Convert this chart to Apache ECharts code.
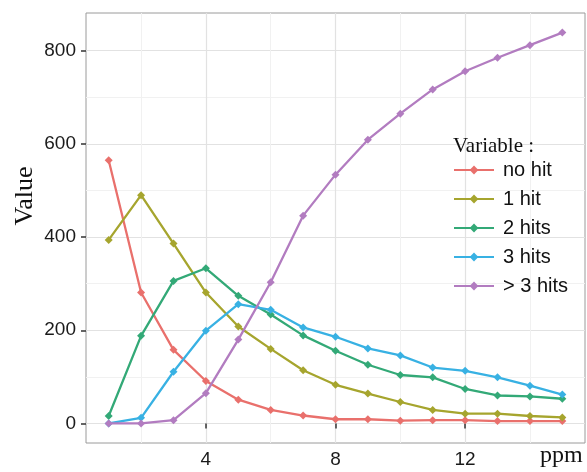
<!DOCTYPE html>
<html>
<head>
<meta charset="utf-8">
<script src="https://cdn.jsdelivr.net/npm/echarts@6/dist/echarts.min.js"></script>
<style>html,body{margin:0;padding:0;background:#fff}#c{width:587px;height:472px}</style>
</head>
<body>
<div id="c"></div>
<script>
const ppm = [1,2,3,4,5,6,7,8,9,10,11,12,13,14,15];
const seriesNames = ['no hit','1 hit','2 hits','3 hits','> 3 hits'];
const noHit   = [565,281,158,91,51,29,17,9,9,6,7,7,5,5,5];
const oneHit  = [394,490,386,281,208,160,114,83,64,46,29,21,21,16,13];
const twoHits = [16,188,306,333,274,234,189,156,126,104,99,74,60,58,53];
const threeHits = [0,12,111,199,256,244,206,186,161,146,120,113,99,81,62];
const moreHits  = [0,0,7,65,180,303,446,534,609,665,717,756,785,812,839];
const xMajorTicks = [4,8,12];
const xMinorTicks = [2,6,10,14];
const yMajorTicks = [0,200,400,600,800];
const yMinorTicks = [100,300,500,700];
const colors = ['#e9706c','#a6a52e','#33a977','#38b1e3','#b27cc0'];

const values = [noHit, oneHit, twoHits, threeHits, moreHits];
const chart = echarts.init(document.getElementById('c'), null, {renderer:'canvas'});
const X_MIN = 0.3, X_MAX = 15.7, Y_MIN = -42, Y_MAX = 881;
const sans = 'Liberation Sans, Arial, sans-serif';
const serif = 'Liberation Serif, Times New Roman, serif';

chart.setOption({
  animation: false,
  backgroundColor: '#fff',
  color: colors,
  title: {
    text: 'Variable :', left: 448, top: 131,
    textStyle: {fontFamily: serif, fontSize: 21, fontWeight: 'normal', color: '#111'}
  },
  grid: {left: 86, right: 2, top: 13, bottom: 29, show: true, borderColor: '#9a9a9a', borderWidth: 1, backgroundColor: 'transparent'},
  legend: {
    left: 453, top: 160, orient: 'vertical', padding: 0,
    itemWidth: 40, itemHeight: 11, itemGap: 9,
    data: seriesNames,
    textStyle: {fontFamily: sans, fontSize: 20, color: '#111', padding: [0,0,0,4]}
  },
  xAxis: [
    {type:'value', min: X_MIN, max: X_MAX,
     name: 'ppm', nameLocation: 'end', nameGap: -45,
     nameTextStyle: {fontFamily: serif, fontSize: 24, color: '#111', verticalAlign: 'top', padding: [20,0,0,0]},
     axisLine:{show:false},
     axisTick:{show:true, length:5, customValues: xMajorTicks, lineStyle:{color:'#333', width:1.5}},
     axisLabel:{customValues: xMajorTicks, margin: 7, fontFamily: sans, fontSize: 19, color:'#1a1a1a'},
     splitLine:{show:true, lineStyle:{color:'#e2e2e2', width:1.2}}},
    {type:'value', min: X_MIN, max: X_MAX, position:'bottom',
     axisLine:{show:false},
     axisTick:{show:false, customValues: xMinorTicks},
     axisLabel:{show:false, customValues: xMinorTicks},
     splitLine:{show:true, lineStyle:{color:'#f1f1f1', width:1}}}
  ],
  yAxis: [
    {type:'value', min: Y_MIN, max: Y_MAX,
     axisLine:{show:false},
     axisTick:{show:true, length:5, customValues: yMajorTicks, lineStyle:{color:'#333', width:1.5}},
     axisLabel:{customValues: yMajorTicks, margin: 10, fontFamily: sans, fontSize: 19, color:'#1a1a1a'},
     splitLine:{show:true, lineStyle:{color:'#e2e2e2', width:1.2}}},
    {type:'value', min: Y_MIN, max: Y_MAX, position:'left',
     axisLine:{show:false},
     axisTick:{show:false, customValues: yMinorTicks},
     axisLabel:{show:false, customValues: yMinorTicks},
     splitLine:{show:true, lineStyle:{color:'#f1f1f1', width:1}}}
  ],
  graphic: [{
    type: 'text', x: 12, y: 196, rotation: Math.PI/2,
    style: {text: 'Value', fontFamily: serif, fontSize: 26, fill: '#111', align: 'center', verticalAlign: 'top'}
  }],
  series: seriesNames.map((n, i) => ({
    name: n, type: 'line', xAxisIndex: 0, yAxisIndex: 0,
    data: ppm.map((x, j) => [x, values[i][j]]),
    symbol: 'diamond', symbolSize: 8, showSymbol: true,
    lineStyle: {width: 2.3}, itemStyle: {color: colors[i]},
    z: 2 + i
  }))
});
</script>
</body>
</html>
